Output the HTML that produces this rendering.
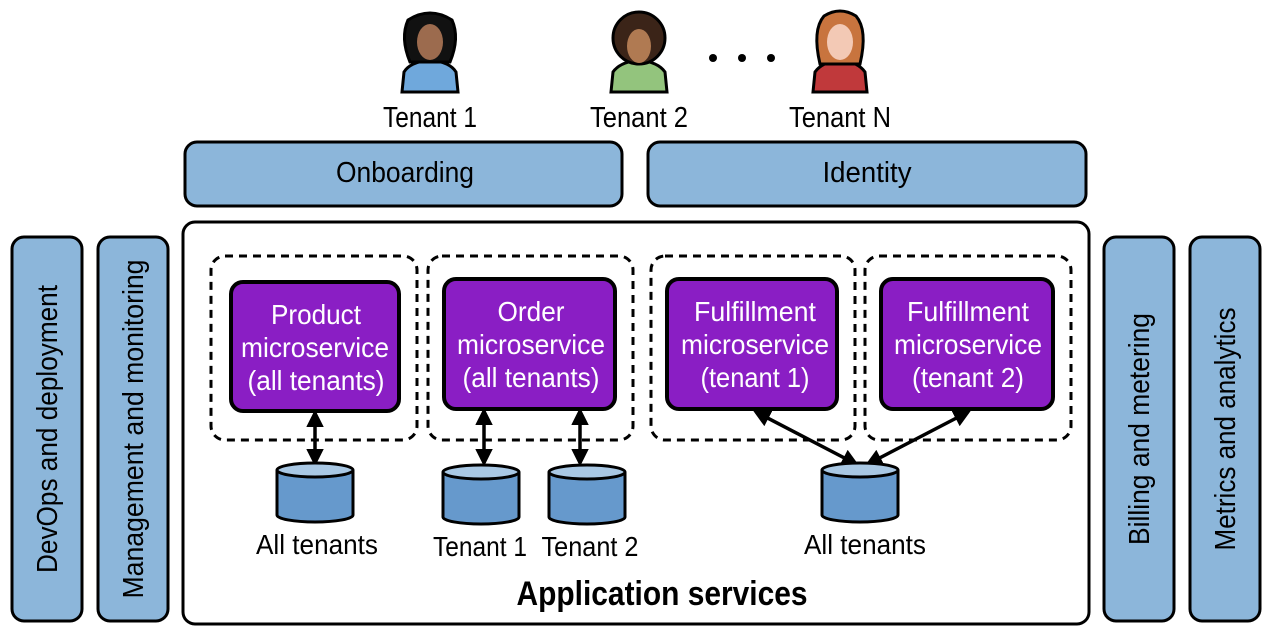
<!DOCTYPE html>
<html><head><meta charset="utf-8"><style>
html,body{margin:0;padding:0;background:#fff;}
svg{display:block;}
text{font-family:"Liberation Sans Narrow","Liberation Sans",sans-serif;}
</style></head><body>
<svg width="1268" height="636" viewBox="0 0 1268 636" xmlns="http://www.w3.org/2000/svg">
<defs>
<marker id="ah" viewBox="0 0 10 10" refX="8" refY="5" markerWidth="5" markerHeight="5" orient="auto-start-reverse">
<path d="M0,0 L10,5 L0,10 z" fill="#000"/></marker>
<g id="cyl">
<path d="M-38,-40 L-38,5 A38,7 0 0 0 38,5 L38,-40" fill="#6699cc" stroke="#000" stroke-width="3"/>
<ellipse cx="0" cy="-40" rx="38" ry="7" fill="#a9c8e4" stroke="#000" stroke-width="3"/>
</g>
</defs>

<!-- tenants -->
<g stroke="#000" stroke-width="3">
<path d="M402,92 L404,72 Q410,62 430,60 Q450,62 456,72 L458,92 Z" fill="#6fa8dc"/>
<path d="M410,62 Q400,38 408,20 Q430,6 452,20 Q460,38 450,62 Z" fill="#111"/>
<ellipse cx="430" cy="42" rx="13" ry="18" fill="#9c6b4e" stroke="none"/>
<path d="M611,92 L613,72 Q620,62 639,60 Q658,62 665,72 L667,92 Z" fill="#93c47d"/>
<circle cx="639" cy="38" r="26" fill="#3b2418"/>
<ellipse cx="639" cy="46" rx="12" ry="17" fill="#b07a52" stroke="none"/>
<path d="M813,92 L815,72 Q822,62 840,60 Q858,62 865,72 L867,92 Z" fill="#c0393b"/>
<path d="M820,64 Q812,30 824,16 Q840,6 856,16 Q868,30 860,64 Z" fill="#c8743e"/>
<ellipse cx="840" cy="42" rx="13" ry="18" fill="#f3c9b5" stroke="none"/>
</g>
<circle cx="713" cy="58" r="4" fill="#000"/><circle cx="742" cy="58" r="4" fill="#000"/><circle cx="771" cy="58" r="4" fill="#000"/>
<g font-size="29" text-anchor="middle" fill="#000" lengthAdjust="spacingAndGlyphs">
<text x="430" y="127" textLength="94" lengthAdjust="spacingAndGlyphs">Tenant 1</text>
<text x="639" y="127" textLength="98" lengthAdjust="spacingAndGlyphs">Tenant 2</text>
<text x="840" y="127" textLength="102" lengthAdjust="spacingAndGlyphs">Tenant N</text>
</g>

<!-- top bars -->
<g fill="#8cb6da" stroke="#000" stroke-width="3">
<rect x="185" y="142" width="437" height="64" rx="12"/>
<rect x="648" y="142" width="438" height="64" rx="12"/>
<rect x="12" y="237" width="70" height="384" rx="12"/>
<rect x="98" y="237" width="70" height="384" rx="12"/>
<rect x="1104" y="237" width="70" height="384" rx="12"/>
<rect x="1190" y="237" width="70" height="384" rx="12"/>
</g>
<g font-size="29" text-anchor="middle" fill="#000">
<text x="405" y="182" textLength="138" lengthAdjust="spacingAndGlyphs">Onboarding</text>
<text x="867" y="182" textLength="89" lengthAdjust="spacingAndGlyphs">Identity</text>
<text transform="translate(57,429) rotate(-90)" textLength="288" lengthAdjust="spacingAndGlyphs">DevOps and deployment</text>
<text transform="translate(143,429) rotate(-90)" textLength="339" lengthAdjust="spacingAndGlyphs">Management and monitoring</text>
<text transform="translate(1149,429) rotate(-90)" textLength="232" lengthAdjust="spacingAndGlyphs">Billing and metering</text>
<text transform="translate(1235,429) rotate(-90)" textLength="243" lengthAdjust="spacingAndGlyphs">Metrics and analytics</text>
</g>

<!-- main -->
<rect x="183" y="222" width="906" height="402" rx="12" fill="#fff" stroke="#000" stroke-width="3"/>
<g fill="none" stroke="#000" stroke-width="3" stroke-dasharray="8,6">
<rect x="211" y="256" width="206" height="184" rx="14"/>
<rect x="428" y="256" width="205" height="184" rx="14"/>
<rect x="651" y="256" width="204" height="184" rx="14"/>
<rect x="865" y="256" width="206" height="184" rx="14"/>
</g>
<g fill="#8a1ec4" stroke="#000" stroke-width="4">
<rect x="231" y="282" width="168" height="129" rx="12"/>
<rect x="444" y="279" width="171" height="130" rx="12"/>
<rect x="667" y="279" width="170" height="130" rx="12"/>
<rect x="881" y="279" width="172" height="130" rx="12"/>
</g>
<g font-size="28" text-anchor="middle" fill="#fff">
<text x="316" y="324" textLength="90" lengthAdjust="spacingAndGlyphs">Product</text>
<text x="315" y="357" textLength="148" lengthAdjust="spacingAndGlyphs">microservice</text>
<text x="316" y="390" textLength="137" lengthAdjust="spacingAndGlyphs">(all tenants)</text>
<text x="531" y="321" textLength="67" lengthAdjust="spacingAndGlyphs">Order</text>
<text x="531" y="354" textLength="148" lengthAdjust="spacingAndGlyphs">microservice</text>
<text x="531" y="387" textLength="137" lengthAdjust="spacingAndGlyphs">(all tenants)</text>
<text x="755" y="321" textLength="122" lengthAdjust="spacingAndGlyphs">Fulfillment</text>
<text x="755" y="354" textLength="148" lengthAdjust="spacingAndGlyphs">microservice</text>
<text x="755" y="387" textLength="109" lengthAdjust="spacingAndGlyphs">(tenant 1)</text>
<text x="968" y="321" textLength="122" lengthAdjust="spacingAndGlyphs">Fulfillment</text>
<text x="968" y="354" textLength="148" lengthAdjust="spacingAndGlyphs">microservice</text>
<text x="968" y="387" textLength="112" lengthAdjust="spacingAndGlyphs">(tenant 2)</text>
</g>

<g stroke="#000" stroke-width="3.5" marker-start="url(#ah)" marker-end="url(#ah)">
<line x1="315" y1="413" x2="315" y2="463"/>
<line x1="484" y1="411" x2="484" y2="463"/>
<line x1="580" y1="411" x2="580" y2="463"/>
<line x1="756" y1="412" x2="856" y2="464"/>
<line x1="968" y1="412" x2="868" y2="464"/>
</g>

<use href="#cyl" x="315" y="510"/>
<use href="#cyl" x="481" y="512"/>
<use href="#cyl" x="587" y="512"/>
<use href="#cyl" x="860" y="510"/>

<g font-size="28" text-anchor="middle" fill="#000">
<text x="317" y="554" textLength="122" lengthAdjust="spacingAndGlyphs">All tenants</text>
<text x="480" y="556" textLength="94" lengthAdjust="spacingAndGlyphs">Tenant 1</text>
<text x="590" y="556" textLength="97" lengthAdjust="spacingAndGlyphs">Tenant 2</text>
<text x="865" y="554" textLength="122" lengthAdjust="spacingAndGlyphs">All tenants</text>
<text x="662" y="605" font-size="34" font-weight="bold" textLength="291" lengthAdjust="spacingAndGlyphs">Application services</text>
</g>
</svg>
</body></html>
